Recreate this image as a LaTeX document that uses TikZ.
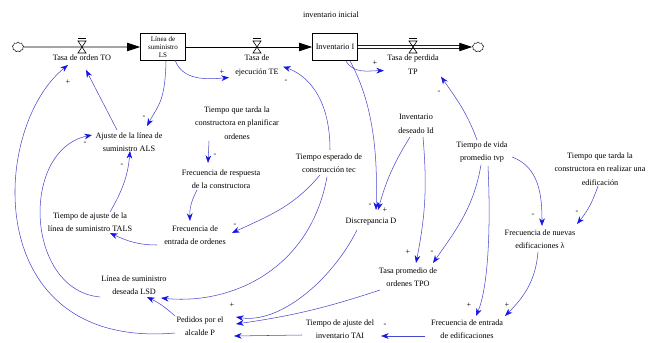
\documentclass[tikz,border=0pt]{standalone}
\usepackage{fontspec}
\setmainfont{Liberation Serif}
\usepackage{xcolor}
\usepackage{tikz}
\usetikzlibrary{arrows.meta, positioning, calc, shapes.symbols}
\definecolor{linkline}{RGB}{72,72,205}
\definecolor{linktip}{RGB}{20,20,230}
\newcommand{\varfont}{\fontsize{7}{11.5}\selectfont}
\tikzset{valve/.pic={\draw[line width=0.5pt] (-4,6) -- (4,6) -- (-4,-6) -- (4,-6) -- cycle; \draw[line width=0.5pt] (-4,9) -- (4,9);}}

\begin{document}
\begin{tikzpicture}[
    x=0.03cm, y=0.03cm,
    var/.style={align=center, font=\varfont, inner sep=1pt},
    sgn/.style={font=\varfont, inner sep=0pt},
    stock/.style={rectangle, draw, line width=0.6pt, align=center, inner sep=1pt},
    sink/.style={cloud, draw, cloud puffs=9, minimum width=0.34cm, minimum height=0.3cm, inner sep=0pt},
    flowpipe/.style={-{Triangle[length=3.9mm, width=2.5mm]}, line width=0.7pt},
    arrow/.style={-{Stealth[length=2.3mm, width=1.7mm, color=linktip]}, draw=linkline, line width=0.45pt}
]
\useasboundingbox (0,0) rectangle (650,-343);

\node[sink] (srcL) at (18,-47) {};
\node[stock, minimum width=1.35cm, minimum height=0.8cm, font=\fontsize{6}{6.5}\selectfont] (LS) at (163,-47) {Línea de\\suministro\\LS};
\node[stock, minimum width=1.35cm, minimum height=0.8cm, font=\varfont] (I) at (335,-47) {Inventario I};
\node[sink] (sinkR) at (478,-47) {};
\node[var] (title) at (331,-15) {inventario inicial};

\coordinate (vTO) at (82,-47);
\coordinate (vTE) at (257,-47);
\coordinate (vTP) at (413,-47);

\draw[flowpipe] (srcL) -- (LS);
\draw[flowpipe] (LS) -- (I);
\draw[double, double distance=2pt, line width=0.5pt, shorten >=3.6mm] (I) -- (sinkR);
\draw[flowpipe] ($(sinkR.west)+(-13,0)$) -- (sinkR);
\pic at (vTO) {valve};
\pic at (vTE) {valve};
\pic at (vTP) {valve};

\node[var, below=0.2cm of vTO] (TO) {Tasa de orden TO};
\node[var, below=0.2cm of vTE] (TE) {Tasa de\\ejecución TE};
\node[var, below=0.2cm of vTP] (TP) {Tasa de perdida\\TP};

\node[var] (plan) at (237,-123) {Tiempo que tarda la\\constructora en planificar\\ordenes};
\node[var] (ALS) at (129,-142) {Ajuste de la línea de\\suministro ALS};
\node[var] (FRC) at (221,-179) {Frecuencia de respuesta\\de la constructora};
\node[var] (tec) at (329,-163) {Tiempo esperado de\\construcción tec};
\node[var] (Id) at (416,-124) {Inventario\\deseado Id};
\node[var] (tp) at (482,-152) {Tiempo de vida\\promedio tvp};
\node[var] (RE) at (600,-169) {Tiempo que tarda la\\constructora en realizar una\\edificación};
\node[var] (D) at (371,-222) {Discrepancia D};
\node[var] (FNE) at (540,-239) {Frecuencia de nuevas\\edificaciones λ};
\node[var] (TALS) at (90,-222) {Tiempo de ajuste de la\\línea de suministro TALS};
\node[var] (FEO) at (195,-235) {Frecuencia de\\entrada de ordenes};
\node[var] (LSD) at (134,-285) {Línea de suministro\\deseada LSD};
\node[var] (P) at (200,-326) {Pedidos por el\\alcalde P};
\node[var] (TPO) at (408,-277) {Tasa promedio de\\ordenes TPO};
\node[var] (TAI) at (340,-329) {Tiempo de ajuste del\\inventario TAI};
\node[var] (FEE) at (467,-329) {Frecuencia de entrada\\de edificaciones};

\draw[arrow] ($(P)+(-25,-7)$) .. controls +(-195,-17) and +(-78,-63) .. ($(TO)+(-14,-7)$);
\draw[arrow] ($(ALS)+(-12,12)$) -- ($(TO)+(4,-12)$);
\draw[arrow] ($(LS)+(3,-14)$) .. controls +(-1,-40) and +(12,22) .. ($(ALS)+(18,16)$);
\draw[arrow] ($(LS)+(12,-13)$) to[out=-70, in=185] ($(TE)+(-28,-12)$);
\draw[arrow] ($(tec)+(1,13)$) .. controls +(0,55) and +(22,-8) .. ($(TE)+(26,-1)$);
\draw[arrow] ($(TALS)+(20,10)$) to[out=60, in=-95] ($(ALS)+(1,-9)$);
\draw[arrow] ($(FEO)+(-38,-10)$) to[out=180, in=-25] ($(TALS)+(20,-11)$);
\draw[arrow] ($(plan)+(-28,-18)$) -- ($(FRC)+(-13,16)$);
\draw[arrow] ($(FRC)+(-24,-11)$) to[bend right=15] ($(FEO)+(-5,14)$);
\draw[arrow] ($(tec)+(-9,-12)$) to[out=-130, in=25] ($(FEO)+(37,2)$);
\draw[arrow] ($(LSD)+(-34,-12)$) .. controls +(-75,7) and +(-72,-15) .. ($(ALS)+(-37,7)$);
\draw[arrow] ($(P)+(-25,10)$) to[bend right=8] ($(LSD)+(13,-12)$);
\draw[arrow] ($(tec)+(-2,-14)$) .. controls +(-17,-93) and +(70,-7) .. ($(LSD)+(27,-13)$);
\draw[arrow] ($(D)+(-14,-8)$) .. controls +(-25,-50) and +(44,-7) .. ($(P)+(36,9)$);
\draw[arrow] ($(TPO)+(-28,-13)$) to[bend left=5] ($(P)+(36,2)$);
\draw[arrow] ($(TAI)+(-38,-6)$) -- ($(P)+(34,-10)$);
\draw[arrow] ($(FEE)+(-42,-7)$) -- ($(TAI)+(41,-7)$);
\draw[arrow] ($(I)+(15,-14)$) .. controls +(22,-40) and +(2,60) .. ($(D)+(5,12)$);
\draw[arrow] ($(I)+(11,-14)$) to[out=-60, in=180] ($(TP)+(-29,-6)$);
\draw[arrow] ($(Id)+(-6,-13)$) to[bend right=8] ($(D)+(7,12)$);
\draw[arrow] ($(Id)+(7,-13)$) to[bend left=8] ($(TPO)+(8,14)$);
\draw[arrow] ($(tp)+(-1,-13)$) to[out=-100, in=55] ($(TPO)+(25,14)$);
\draw[arrow] ($(tp)+(-5,12)$) to[out=110, in=-55] ($(TP)+(28,-12)$);
\draw[arrow] ($(tp)+(30,-5)$) to[out=-20, in=90] ($(FNE)+(2,13)$);
\draw[arrow] ($(RE)+(-2,-17)$) to[bend left=10] ($(FNE)+(37,15)$);
\draw[arrow] ($(tp)+(6,-14)$) .. controls +(3,-64) and +(12,28) .. ($(FEE)+(9,13)$);
\draw[arrow] ($(FNE)+(-2,-13)$) to[out=-95, in=45] ($(FEE)+(38,13)$);

\node[sgn] (s1) at (68,-82) {+};
\node[sgn] (s2) at (144,-117) {-};
\node[sgn] (s3) at (222,-72) {+};
\node[sgn] (s4) at (286,-81) {-};
\node[sgn] (s5) at (85,-143) {-};
\node[sgn] (s6) at (122,-165) {-};
\node[sgn] (s7) at (215,-155) {-};
\node[sgn] (s8) at (235,-225) {-};
\node[sgn] (s9) at (232,-305) {+};
\node[sgn] (s10) at (370,-205) {-};
\node[sgn] (s11) at (385,-210) {+};
\node[sgn] (s12) at (375,-63) {+};
\node[sgn] (s13) at (439,-92) {-};
\node[sgn] (s14) at (408,-252) {+};
\node[sgn] (s15) at (432,-252) {-};
\node[sgn] (s16) at (533,-215) {-};
\node[sgn] (s17) at (577,-212) {-};
\node[sgn] (s18) at (469,-305) {+};
\node[sgn] (s19) at (507,-305) {+};
\node[sgn] (s20) at (385,-325) {-};
\end{tikzpicture}
\end{document}
